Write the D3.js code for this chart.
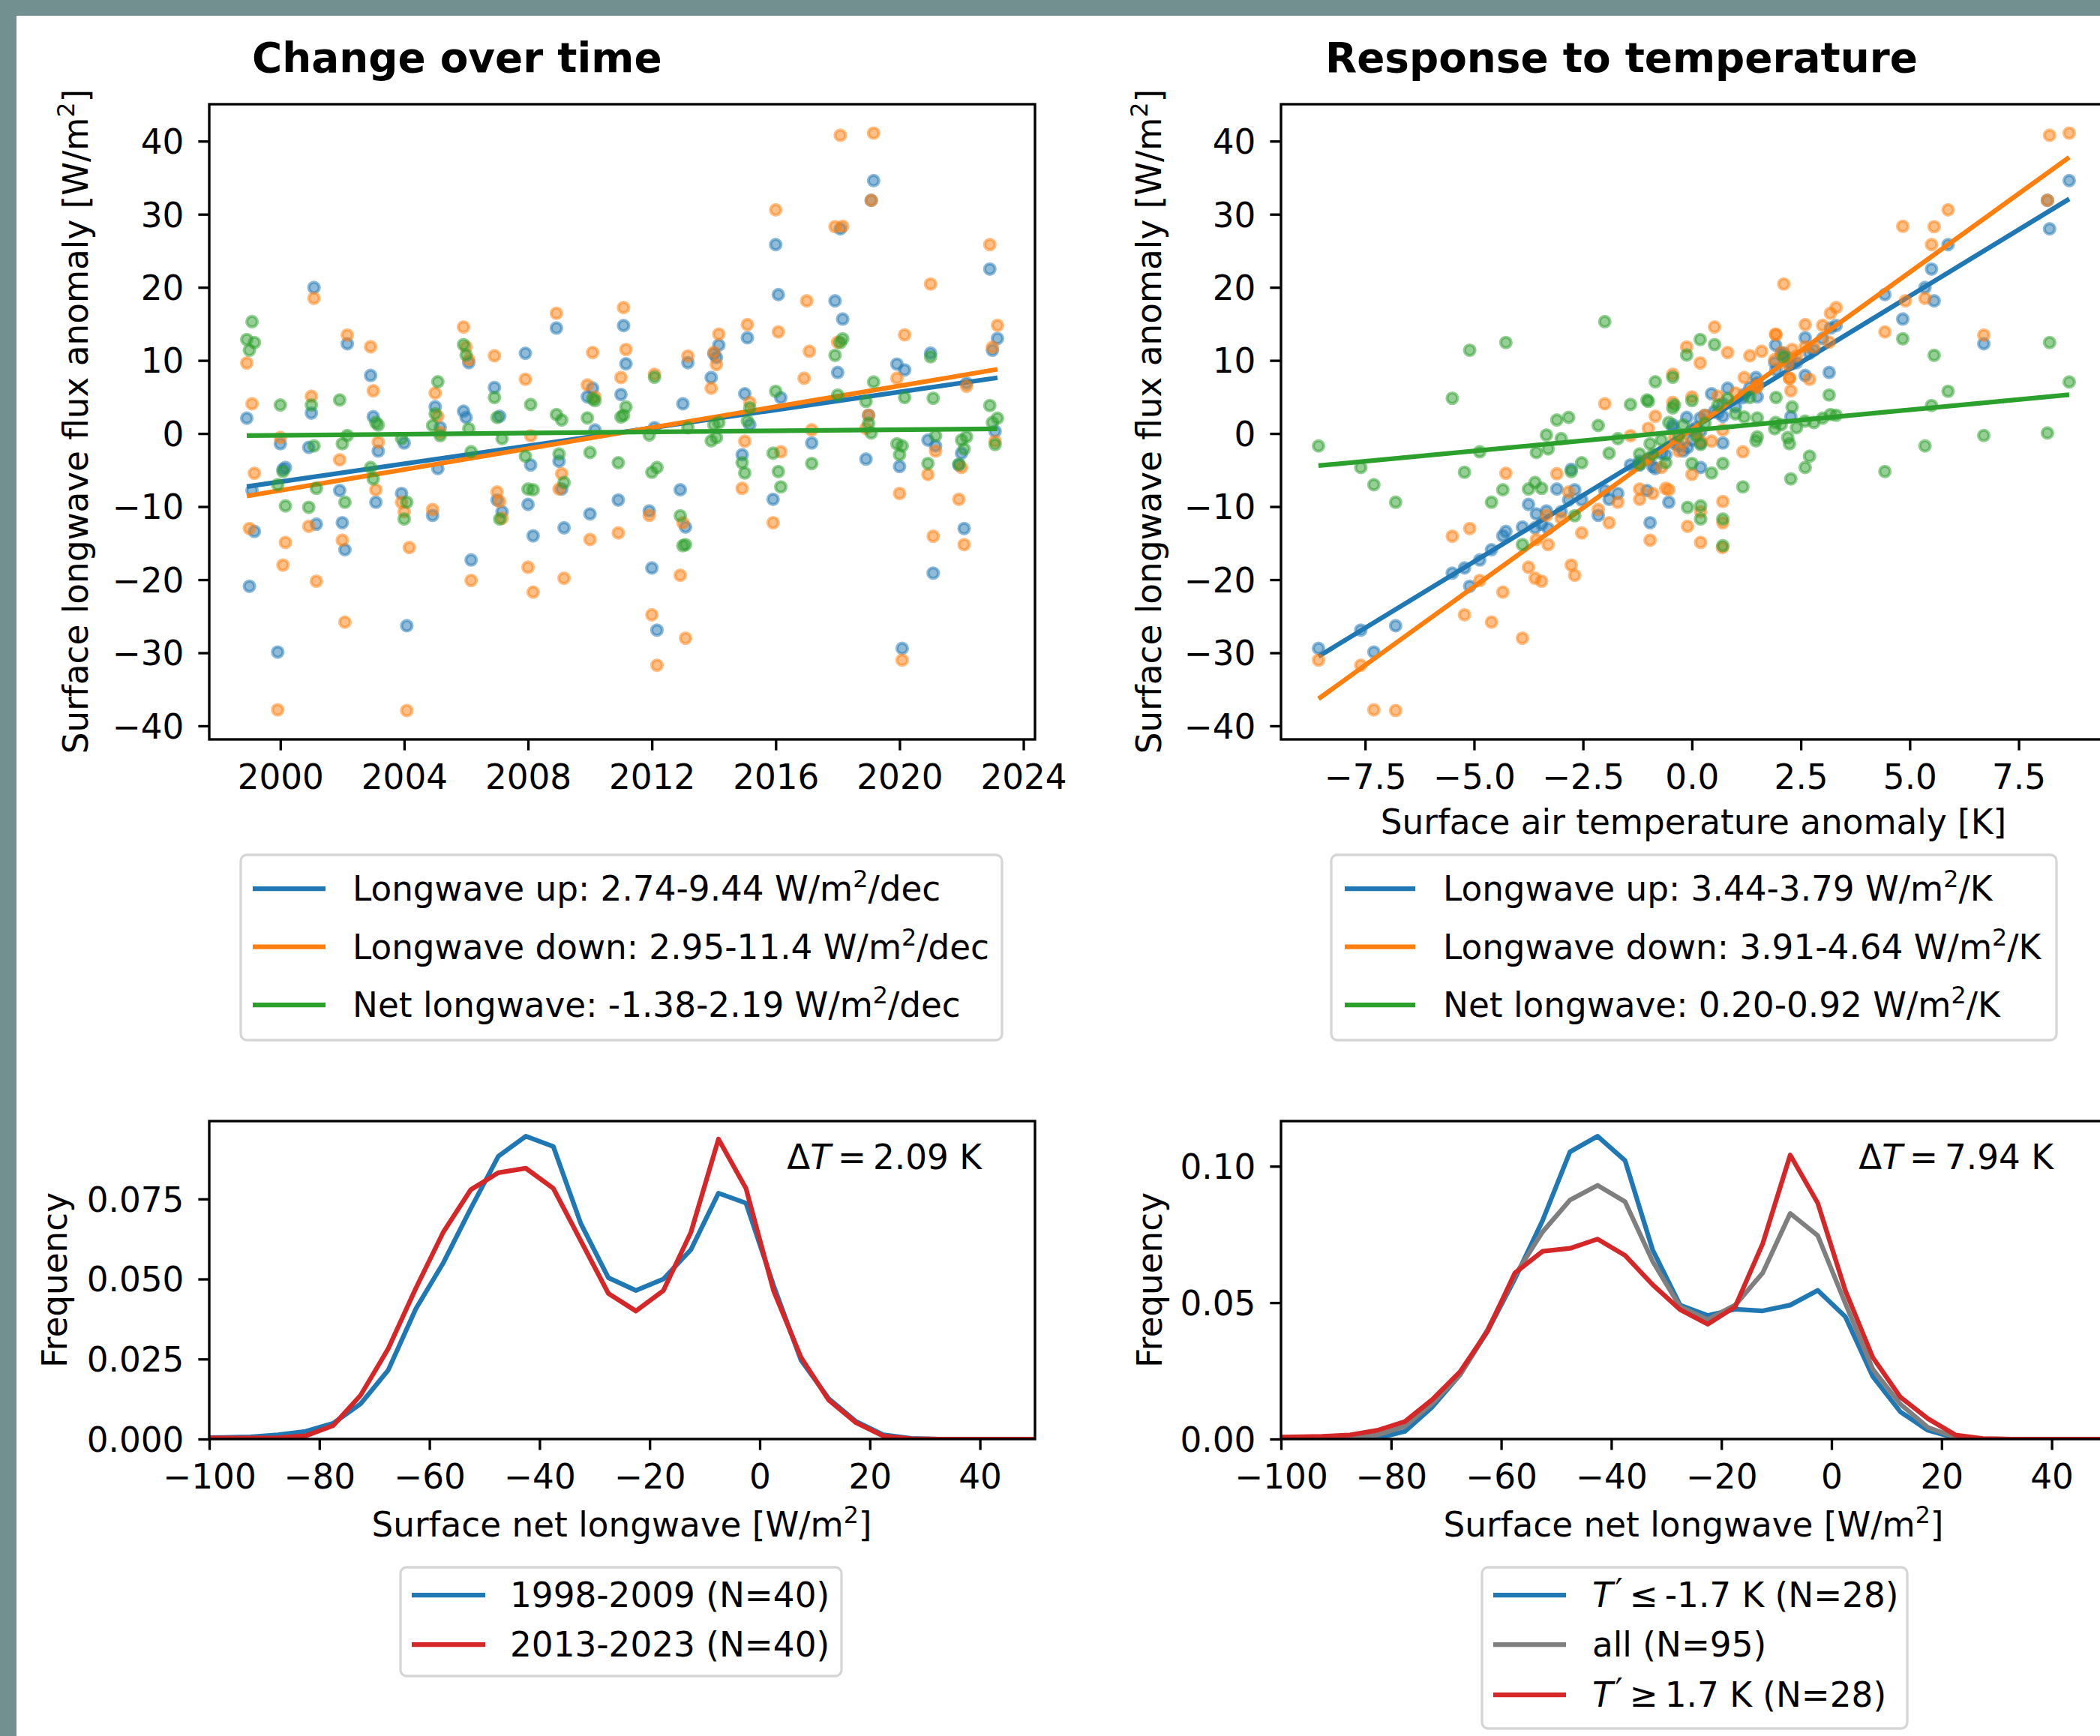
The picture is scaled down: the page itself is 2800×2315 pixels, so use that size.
<!DOCTYPE html>
<html><head><meta charset="utf-8">
<script src="https://cdn.jsdelivr.net/npm/d3@7"></script>
<style>body{margin:0;background:#fff}svg{display:block}</style>
</head><body>
<script>
// ---------------- DATA ----------------
const dates = [
"1998-12","1999-01","1999-02","1999-03","1999-12","2000-01","2000-02","2000-03",
"2000-12","2001-01","2001-02","2001-03","2001-12","2002-01","2002-02","2002-03",
"2002-12","2003-01","2003-02","2003-03","2003-12","2004-01","2004-02","2004-03",
"2004-12","2005-01","2005-02","2005-03","2005-12","2006-01","2006-02","2006-03",
"2006-12","2007-01","2007-02","2007-03","2007-12","2008-01","2008-02","2008-03",
"2008-12","2009-01","2009-02","2009-03","2009-12","2010-01","2010-02","2010-03",
"2010-12","2011-01","2011-02","2011-03","2011-12","2012-01","2012-02","2012-03",
"2012-12","2013-01","2013-02","2013-03","2013-12","2014-01","2014-02","2014-03",
"2014-12","2015-01","2015-02","2015-03","2015-12","2016-01","2016-02","2016-03",
"2016-12","2017-01","2017-02","2017-03","2017-12","2018-01","2018-02","2018-03",
"2018-12","2019-01","2019-02","2019-03","2019-12","2020-01","2020-02","2020-03",
"2020-12","2021-01","2021-02","2021-03","2021-12","2022-01","2022-02","2022-03",
"2022-12","2023-01","2023-02","2023-03"];
const tempAnom = [
0.19,-5.1,-2.0,-4.27, -7.3,-0.4,-2.77,0.2, -0.1,0.6,5.35,-3.45, -1.03,-0.96,-4.6,6.7,
2.6,2.27,-0.53,-0.2, -1.7,0.2,-6.8,0.7, -2.15,1.0,-0.84,0.1, 0.52,-0.12,1.9,-4.87,
1.33,-2.83,0.71,-3.0, 2.7,-3.75,-1.41,-4.34, 3.18,-1.2,-3.1,-3.6, 1.5,-3.57,0.82,0.0,
-2.53,1.2,3.31,2.3, -3.34,-5.22,-0.44,-7.6, -2.69,0.71,-3.89,2.4, 1.47,2.05,2.2,1.92,
-0.6,0.45,2.6,-0.44, -1.9,5.88,4.43,1.17, 2.24,4.9,1.6,0.71, 5.56,3.15,8.21,4.84,
-1.0,0.3,8.16,8.66, 2.24,-0.9,-8.57,1.93, 0.0,2.11,-5.5,-0.3, -1.2,-0.7,-3.3,1.5,
5.5,2.8,0.2,3.0];
const lwUp = [
2.1,-20.9,-7.8,-13.4, -29.9,-1.4,-4.9,-4.65, -1.9,2.8,19.97,-12.4, -7.8,-12.2,-15.9,12.28,
7.94,2.3,-9.4,-2.4, -8.2,-1.3,-26.3,null, -11.2,3.66,-4.8,0.83, 3.05,2.2,9.7,-17.3,
6.29,-9.1,2.36,-10.7, 10.98,-9.7,-4.3,-14.0, 14.43,-3.8,-7.6,-12.9, 5.03,-11.0,6.2,0.48,
-9.1,5.34,14.77,9.54, -10.6,-18.4,0.8,-26.9, -7.7,4.07,-12.8,9.7, 7.66,10.9,10.4,12.1,
-2.9,5.44,13.1,1.2, -9.0,25.85,19.0,4.9, null,null,null,-1.3, 18.15,8.35,28.0,15.66,
-3.5,2.5,31.9,34.6, 9.5,-4.5,-29.4,8.7, -0.9,11.0,-19.1,-1.7, -4.3,-2.7,-13.0,6.9,
22.5,11.4,0.3,13.0];
const lwDown = [
9.65,-13.0,4.07,-5.44, -37.8,-0.55,-18.0,-14.9, -12.7,5.1,18.5,-20.2, -3.6,-14.6,-25.8,13.47,
11.87,5.85,-7.7,-1.2, -9.4,-10.7,-37.9,-15.6, -10.4,5.54,2.36,0.1, 14.57,11.83,10.1,-20.1,
10.64,-8.0,-9.3,-11.6, 7.42,-18.3,-0.3,-21.7, 16.45,-7.6,-5.5,-19.8, 6.64,-14.5,11.08,5.0,
-13.6,7.66,17.23,11.5, -11.2,-24.8,8.1,-31.7, -19.4,-12.2,-28.0,10.6, 6.2,11.1,9.44,13.6,
-7.5,-1.06,14.9,4.25, -12.2,30.6,13.9,-2.5, 7.56,18.15,11.25,0.5, 28.3,12.5,40.8,28.35,
0.7,2.5,31.9,41.1, 7.56,-8.2,-31.0,13.5, -5.6,20.45,-14.05,-2.4, -9.0,-4.65,-15.2,6.47,
25.85,11.8,-1.06,14.8];
const lwNet = [
12.86,11.4,15.3,12.45, -7.0,3.9,-5.2,-9.9, -10.1,3.9,-1.7,-7.5, 4.59,-1.4,-9.4,-0.27,
-4.65,-6.2,1.5,1.17, -0.7,-11.7,-9.4,null, 1.1,2.7,7.08,-0.3, 12.17,10.74,0.65,-2.5,
4.93,2.2,-11.7,-0.7, -3.1,-7.6,3.97,-7.7, 2.6,-2.8,1.85,-6.7, 2.13,-2.6,4.76,4.5,
-4.0,2.26,2.5,3.63, -0.2,-5.3,7.7,-4.65, -11.25,-15.35,-15.2,0.8, -1.0,1.2,-0.55,1.5,
-4.0,-5.4,1.7,3.5, -2.7,5.78,-5.2,-7.3, null,null,null,-4.1, 10.7,5.27,12.45,12.96,
4.4,1.4,0.07,7.05, -1.4,-2.9,-1.7,4.93, -4.1,10.5,4.83,-0.3, -4.2,-0.9,-2.1,-0.45,
3.83,1.5,-1.5,2.1];

// regression lines (value at first / last point)
const fitTimeUp = [-7.26, 7.63];
const fitTimeDown = [-8.56, 8.78];
const fitTimeNet = [-0.29, 0.65];
const fitTempUp = [-30.5, 32.1];
const fitTempDown = [-36.3, 37.8];
const fitTempNet = [-4.4, 5.3];

// net longwave frequency distributions (bin centres, W/m2)
const binCenters = [-102.5,-97.5,-92.5,-87.5,-82.5,-77.5,-72.5,-67.5,-62.5,-57.5,-52.5,-47.5,-42.5,-37.5,-32.5,-27.5,
  -22.5,-17.5,-12.5,-7.5,-2.5,2.5,7.5,12.5,17.5,22.5,27.5,32.5,37.5,42.5,47.5,52.5];
const freqEarly = [0.0004,0.0005,0.0007,0.0013,0.0024,0.0049,0.011,0.0215,0.0406,0.055,0.072,0.0883,0.0946,0.0914,0.0673,0.0504,
  0.0464,0.050,0.0592,0.0768,0.0737,0.048,0.0246,0.0127,0.0055,0.0013,0.0002,0,0,0,0,0];
const freqLate = [0.0003,0.0003,0.0003,0.0004,0.001,0.0042,0.0137,0.0282,0.047,0.0646,0.0779,0.0832,0.0846,0.0783,0.0619,0.0455,
  0.040,0.0464,0.0646,0.0937,0.0783,0.0464,0.0255,0.0122,0.0051,0.0009,0.0001,0,0,0,0,0];
const freqCold = [0,0,0,0,0.0003,0.0028,0.0118,0.0235,0.0395,0.0588,0.080,0.1053,0.111,0.1021,0.0694,0.0491,
  0.0453,0.0476,0.047,0.0491,0.0545,0.0449,0.0229,0.010,0.0032,0.0004,0,0,0,0,0,0];
const freqAll = [0.0002,0.0003,0.0005,0.001,0.0015,0.0047,0.013,0.0235,0.040,0.060,0.0759,0.0876,0.093,0.087,0.0652,0.0485,
  0.0438,0.0491,0.0609,0.0827,0.0746,0.0498,0.0256,0.0128,0.0043,0.0006,0.0001,0,0,0,0,0];
const freqWarm = [0.0006,0.0008,0.001,0.0015,0.0032,0.0064,0.0145,0.0246,0.0395,0.0609,0.0688,0.0699,0.0733,0.0673,0.0566,0.0474,
  0.0421,0.0485,0.0716,0.1041,0.0865,0.0545,0.0299,0.0154,0.0075,0.0015,0.0002,0,0,0,0,0];

// ticks and labels
const timeTickYears = [2000,2004,2008,2012,2016,2020,2024];
const fluxTicks = [-40,-30,-20,-10,0,10,20,30,40];
const tempTicks = [-7.5,-5.0,-2.5,0.0,2.5,5.0,7.5];
const lwTicks = [-100,-80,-60,-40,-20,0,20,40];
const freqTicksA = [0,0.025,0.05,0.075];
const freqTicksB = [0,0.05,0.10];
const titles = ["Change over time","Response to temperature"];
const legendTime = ["Longwave up: 2.74-9.44 W/m^2/dec","Longwave down: 2.95-11.4 W/m^2/dec","Net longwave: -1.38-2.19 W/m^2/dec"];
const legendTemp = ["Longwave up: 3.44-3.79 W/m^2/K","Longwave down: 3.91-4.64 W/m^2/K","Net longwave: 0.20-0.92 W/m^2/K"];
const legendPeriod = ["1998-2009 (N=40)","2013-2023 (N=40)"];
const legendClass = ["*T*^′\u2009≤\u2009-1.7 K (N=28)","all (N=95)","*T*^′\u2009≥\u20091.7 K (N=28)"];
const deltaLabels = ["Δ*T*\u2009=\u20092.09 K","Δ*T*\u2009=\u20097.94 K"];

// ---------------- DRAWING ----------------
const W=2800,H=2315,FONT='"DejaVu Sans", sans-serif';
const FS=45.3, TFS=54.8, LW=6.25, SW=3.33, TL=14.6;
const C={blue:"#1f77b4",orange:"#ff7f0e",green:"#2ca02c",red:"#d62728",gray:"#7f7f7f"};
const svg=d3.select("body").append("svg").attr("width",W).attr("height",H).attr("font-family",FONT);
svg.append("rect").attr("width",W).attr("height",H).attr("fill","#fff");
svg.append("rect").attr("width",W).attr("height",21).attr("fill","#72908f");
svg.append("rect").attr("width",22).attr("height",H).attr("fill","#72908f");

// tiny markup: ^x = superscript char, *..* = italic
function rich(t, str, fs){
  const re=/(\^.)|(\*[^*]+\*)|([^^*]+)/g; let m, raise=0;
  while((m=re.exec(str))){
    if(m[1]){
      const ch=m[1][1], prime=(ch==="′");
      const r=prime? fs*0.12 : fs*0.4;
      const s=t.append("tspan").attr("font-size",prime?fs:fs*0.7).attr("dy",-r).text(ch);
      if(prime) s.attr("dx",fs*0.06);
      raise=r;
    } else {
      const s=t.append("tspan");
      if(raise){ s.attr("dy",raise); raise=0; }
      if(m[2]) s.attr("font-style","italic").text(m[2].slice(1,-1)); else s.text(m[3]);
    }
  }
}
let clipId=0;
function panel(x0,y0,w,h){
  const g=svg.append("g").attr("transform",`translate(${x0},${y0})`);
  const id="clip"+(clipId++);
  g.append("clipPath").attr("id",id).append("rect").attr("width",w).attr("height",h);
  const inner=g.append("g").attr("clip-path",`url(#${id})`);
  return {g,inner,w,h};
}
function axes(p,x,y,xt,yt,xf,yf){
  const ax=p.g.append("g").attr("transform",`translate(0,${p.h})`)
    .call(d3.axisBottom(x).tickValues(xt).tickFormat(xf).tickSize(TL).tickSizeOuter(0).tickPadding(19));
  const ay=p.g.append("g")
    .call(d3.axisLeft(y).tickValues(yt).tickFormat(yf).tickSize(TL).tickSizeOuter(0).tickPadding(19));
  [ax,ay].forEach(a=>{a.attr("font-family",FONT).attr("font-size",FS);a.select(".domain").remove();
    a.selectAll("line").attr("stroke","#000").attr("stroke-width",SW);
    a.selectAll("text").attr("fill","#000");});
  ay.selectAll("text").attr("dy","0.36em");
  p.g.append("rect").attr("width",p.w).attr("height",p.h).attr("fill","none").attr("stroke","#000").attr("stroke-width",SW);
}
function pad(ext){const r=ext[1]-ext[0];return [ext[0]-0.05*r,ext[1]+0.05*r];}
function legend(x0,y0,w,h,rows,hx0,hx1,tx,items){
  const g=svg.append("g");
  g.append("rect").attr("x",x0).attr("y",y0).attr("width",w).attr("height",h).attr("rx",8)
    .attr("fill","#fff").attr("stroke","#d6d6d6").attr("stroke-width",3.3);
  items.forEach((it,i)=>{
    g.append("line").attr("x1",hx0).attr("x2",hx1).attr("y1",rows[i]).attr("y2",rows[i])
      .attr("stroke",it.color).attr("stroke-width",LW);
    const t=g.append("text").attr("x",tx).attr("y",rows[i]+FS*0.36).attr("font-size",FS).attr("fill","#000");
    rich(t,it.label,FS);
  });
}
function yLabel(x,y,str){const t=svg.append("text").attr("transform",`translate(${x},${y}) rotate(-90)`)
  .attr("text-anchor","middle").attr("font-size",FS).attr("fill","#000");rich(t,str,FS);}
function xLabel(x,y,str){const t=svg.append("text").attr("x",x).attr("y",y)
  .attr("text-anchor","middle").attr("font-size",FS).attr("fill","#000");rich(t,str,FS);}

const parse=d3.utcParse("%Y-%m");
const obs=dates.map((d,i)=>({date:parse(d),T:tempAnom[i],up:lwUp[i],down:lwDown[i],net:lwNet[i]}));
const allVals=[...lwUp,...lwDown,...lwNet].filter(v=>v!=null);
const yFlux=pad(d3.extent(allVals));
const series=[{k:"up",c:C.blue,ft:fitTimeUp,fT:fitTempUp},{k:"down",c:C.orange,ft:fitTimeDown,fT:fitTempDown},{k:"net",c:C.green,ft:fitTimeNet,fT:fitTempNet}];
const R=7, MSW=4.2;

// --- top-left: change over time
{
  const p=panel(279,139,1101,847);
  const tExt=d3.extent(obs,d=>+d.date);
  const x=d3.scaleUtc().domain(pad(tExt).map(v=>new Date(v))).range([0,p.w]);
  const y=d3.scaleLinear().domain(yFlux).range([p.h,0]);
  series.forEach(s=>{
    p.inner.append("g").selectAll("circle").data(obs.filter(d=>d[s.k]!=null)).join("circle")
      .attr("cx",d=>x(d.date)).attr("cy",d=>y(d[s.k])).attr("r",R)
      .attr("fill",s.c).attr("fill-opacity",0.5).attr("stroke",s.c).attr("stroke-opacity",0.5).attr("stroke-width",MSW);
    const ends=[{d:new Date(tExt[0]),v:s.ft[0]},{d:new Date(tExt[1]),v:s.ft[1]}];
    p.inner.append("path").attr("d",d3.line().x(e=>x(e.d)).y(e=>y(e.v))(ends))
      .attr("fill","none").attr("stroke",s.c).attr("stroke-width",LW);
  });
  axes(p,x,y,timeTickYears.map(yr=>new Date(Date.UTC(yr,0,1))),fluxTicks,d3.utcFormat("%Y"),d3.format("d"));
}
// --- top-right: response to temperature
{
  const p=panel(1708,139,1101,847);
  const TExt=d3.extent(tempAnom);
  const x=d3.scaleLinear().domain(pad(TExt)).range([0,p.w]);
  const y=d3.scaleLinear().domain(yFlux).range([p.h,0]);
  series.forEach(s=>{
    p.inner.append("g").selectAll("circle").data(obs.filter(d=>d[s.k]!=null)).join("circle")
      .attr("cx",d=>x(d.T)).attr("cy",d=>y(d[s.k])).attr("r",R)
      .attr("fill",s.c).attr("fill-opacity",0.5).attr("stroke",s.c).attr("stroke-opacity",0.5).attr("stroke-width",MSW);
    const ends=[{t:TExt[0],v:s.fT[0]},{t:TExt[1],v:s.fT[1]}];
    p.inner.append("path").attr("d",d3.line().x(e=>x(e.t)).y(e=>y(e.v))(ends))
      .attr("fill","none").attr("stroke",s.c).attr("stroke-width",LW);
  });
  axes(p,x,y,tempTicks,fluxTicks,d3.format(".1f"),d3.format("d"));
}
// --- bottom panels
function distPanel(x0,lines,yTicks,yFmt,dLabel){
  const p=panel(x0,1495,1101,424);
  const x=d3.scaleLinear().domain([-100,50]).range([0,p.w]);
  const ymax=d3.max(lines,l=>d3.max(l.v));
  const y=d3.scaleLinear().domain([0,ymax*1.05]).range([p.h,0]);
  lines.forEach(l=>{
    p.inner.append("path").attr("d",d3.line().x((d,i)=>x(binCenters[i])).y(d=>y(d))(l.v))
      .attr("fill","none").attr("stroke",l.c).attr("stroke-width",LW).attr("stroke-linejoin","round");
  });
  axes(p,x,y,lwTicks,yTicks,d3.format("d"),yFmt);
  const t=p.g.append("text").attr("x",1030).attr("y",64).attr("text-anchor","end").attr("font-size",FS).attr("fill","#000");
  rich(t,dLabel,FS);
}
distPanel(279,[{v:freqEarly,c:C.blue},{v:freqLate,c:C.red}],freqTicksA,d3.format(".3f"),deltaLabels[0]);
distPanel(1708,[{v:freqCold,c:C.blue},{v:freqAll,c:C.gray},{v:freqWarm,c:C.red}],freqTicksB,d3.format(".2f"),deltaLabels[1]);

// titles & labels
svg.append("text").attr("x",336).attr("y",96).attr("font-size",TFS).attr("font-weight","bold").attr("fill","#000").text(titles[0]);
svg.append("text").attr("x",1767).attr("y",96).attr("font-size",TFS).attr("font-weight","bold").attr("fill","#000").text(titles[1]);
yLabel(117,562,"Surface longwave flux anomaly [W/m^2]");
yLabel(1548,562,"Surface longwave flux anomaly [W/m^2]");
xLabel(2258,1112,"Surface air temperature anomaly [K]");
yLabel(89,1707,"Frequency");
yLabel(1549,1707,"Frequency");
xLabel(829,2049,"Surface net longwave [W/m^2]");
xLabel(2258,2049,"Surface net longwave [W/m^2]");

// legends
legend(321,1140,1015,247,[1185,1262.5,1340],337,434,470,
  legendTime.map((l,i)=>({label:l,color:[C.blue,C.orange,C.green][i]})));
legend(1775,1140,967,247,[1185,1262.5,1340],1793,1887,1924,
  legendTemp.map((l,i)=>({label:l,color:[C.blue,C.orange,C.green][i]})));
legend(534,2090,588,145,[2127,2193],549,647,680,
  legendPeriod.map((l,i)=>({label:l,color:[C.blue,C.red][i]})));
legend(1976,2090,567,215,[2127,2193,2260],1991,2088,2123,
  legendClass.map((l,i)=>({label:l,color:[C.blue,C.gray,C.red][i]})));
</script>
</body></html>
